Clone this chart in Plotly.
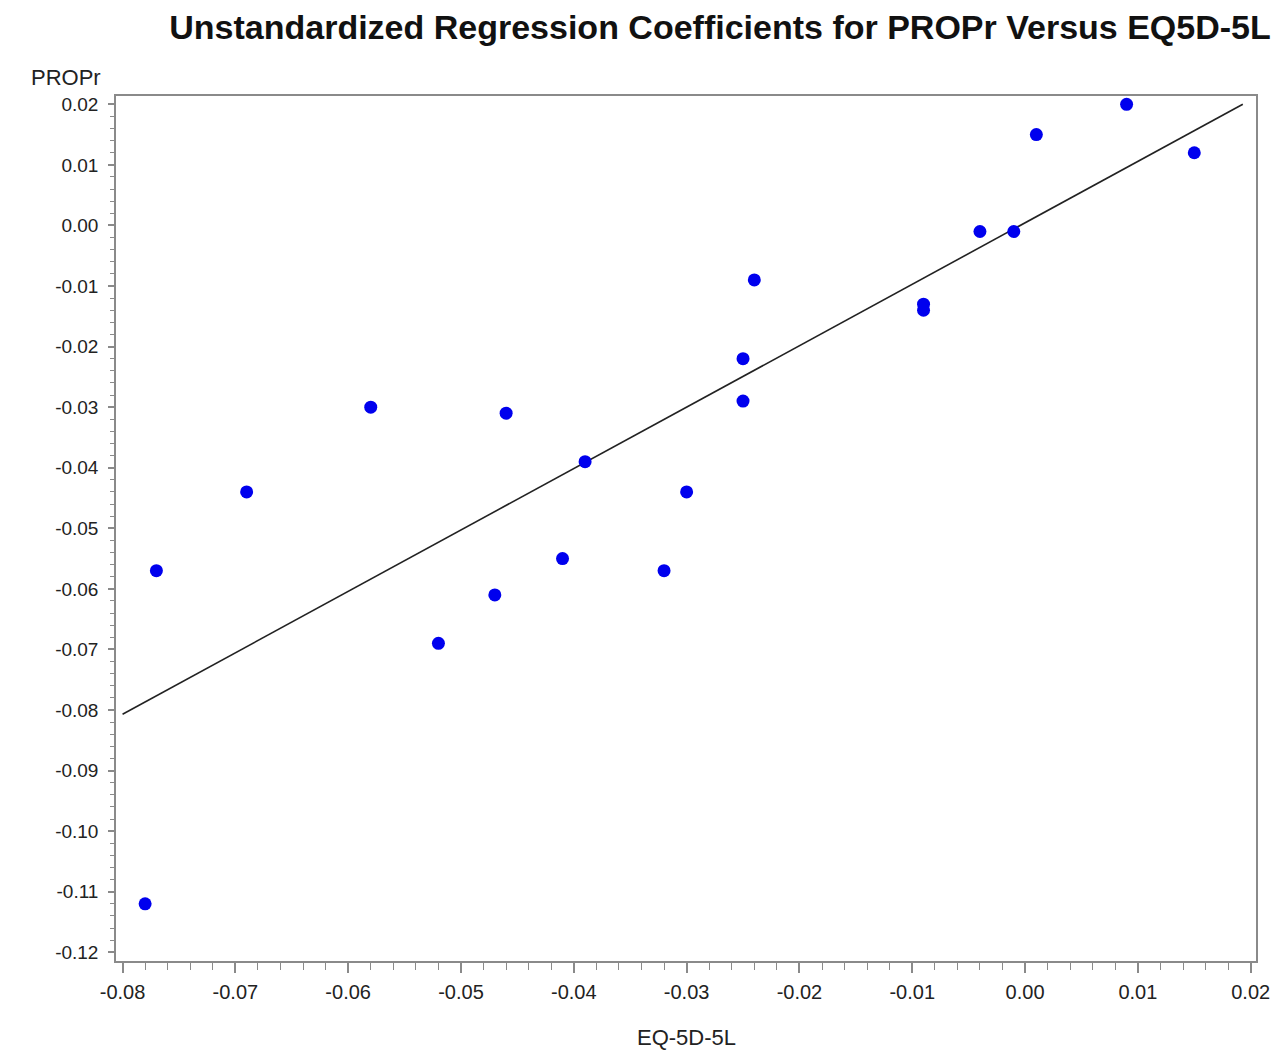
import plotly.graph_objects as go

# Data
eq5d = [-0.078, -0.077, -0.069, -0.058, -0.052, -0.047, -0.046, -0.041, -0.039,
        -0.032, -0.030, -0.025, -0.025, -0.024, -0.009, -0.009, -0.004, -0.001,
        0.001, 0.009, 0.015]
propr = [-0.112, -0.057, -0.044, -0.030, -0.069, -0.061, -0.031, -0.055, -0.039,
         -0.057, -0.044, -0.022, -0.029, -0.009, -0.013, -0.014, -0.001, -0.001,
         0.015, 0.020, 0.012]

# Regression line endpoints (as drawn)
fit_x = [-0.080, 0.0193]
fit_y = [-0.0807, 0.0200]

x_ticks = [-0.08, -0.07, -0.06, -0.05, -0.04, -0.03, -0.02, -0.01, 0.00, 0.01, 0.02]
y_ticks = [0.02, 0.01, 0.00, -0.01, -0.02, -0.03, -0.04, -0.05, -0.06, -0.07,
           -0.08, -0.09, -0.10, -0.11, -0.12]

title_text = "Unstandardized Regression Coefficients for PROPr Versus EQ5D-5L"
x_label = "EQ-5D-5L"
y_label = "PROPr"

FONT = "Liberation Sans, Arial, sans-serif"
AXIS_COLOR = "#8a8a8a"

# page body has an 8px margin: figure is sized/placed to compensate
OFF = 8
W, H = 1274, 1043
L, T, R, B = 116 - OFF, 96 - OFF, OFF + W - 1259, OFF + H - 961
PW, PH = W - L - R, H - T - B

fig = go.Figure()
fig.add_trace(go.Scatter(x=fit_x, y=fit_y, mode="lines",
                         line=dict(color="#222222", width=1.6),
                         hoverinfo="skip", showlegend=False))
fig.add_trace(go.Scatter(x=eq5d, y=propr, mode="markers",
                         marker=dict(color="#0000ee", size=13, line=dict(width=0)),
                         showlegend=False))

fig.update_layout(
    width=W, height=H,
    margin=dict(l=L, r=R, t=T, b=B, pad=0),
    paper_bgcolor="white", plot_bgcolor="white",
    font=dict(family=FONT, size=19, color="#222222"),
    title=dict(text="<b>" + title_text + "</b>", x=(720 - OFF) / W, xanchor="center",
               xref="container", y=1 - (27 - OFF) / H, yanchor="middle", yref="container",
               font=dict(family=FONT, size=34, color="#111111")),
    showlegend=False,
)

fig.update_xaxes(
    range=[-0.08058, 0.02047], tickvals=x_ticks,
    ticktext=[f"{v:.2f}" for v in x_ticks],
    showgrid=False, zeroline=False,
    showline=True, linecolor=AXIS_COLOR, linewidth=1.5, mirror=True,
    ticks="outside", ticklen=10, tickwidth=1.5, tickcolor=AXIS_COLOR,
    minor=dict(ticks="outside", ticklen=7, tickwidth=1.3, tickcolor=AXIS_COLOR,
               tick0=0, dtick=0.002, showgrid=False),
    tickfont=dict(size=20, color="#222222"),
    ticklabelstandoff=2,
)
fig.update_yaxes(
    range=[-0.12144, 0.02137], tickvals=y_ticks,
    ticktext=[f"{v:.2f}" for v in y_ticks],
    showgrid=False, zeroline=False,
    showline=True, linecolor=AXIS_COLOR, linewidth=1.5, mirror=True,
    ticks="outside", ticklen=6, tickwidth=1.5, tickcolor=AXIS_COLOR,
    minor=dict(ticks="outside", ticklen=4, tickwidth=1.3, tickcolor=AXIS_COLOR,
               tick0=0, dtick=0.002, showgrid=False),
    tickfont=dict(size=19, color="#222222"),
    ticklabelstandoff=6,
)

fig.add_annotation(text=y_label, xref="paper", yref="paper",
                   x=(103 - 116) / PW, xanchor="right",
                   y=(961 - 78) / PH, yanchor="middle",
                   showarrow=False, font=dict(family=FONT, size=22, color="#222222"))
fig.add_annotation(text=x_label, xref="paper", yref="paper",
                   x=0.5, xanchor="center",
                   y=-(1037 - 961) / PH, yanchor="middle",
                   showarrow=False, font=dict(family=FONT, size=22, color="#222222"))

fig.write_html("out.html")
